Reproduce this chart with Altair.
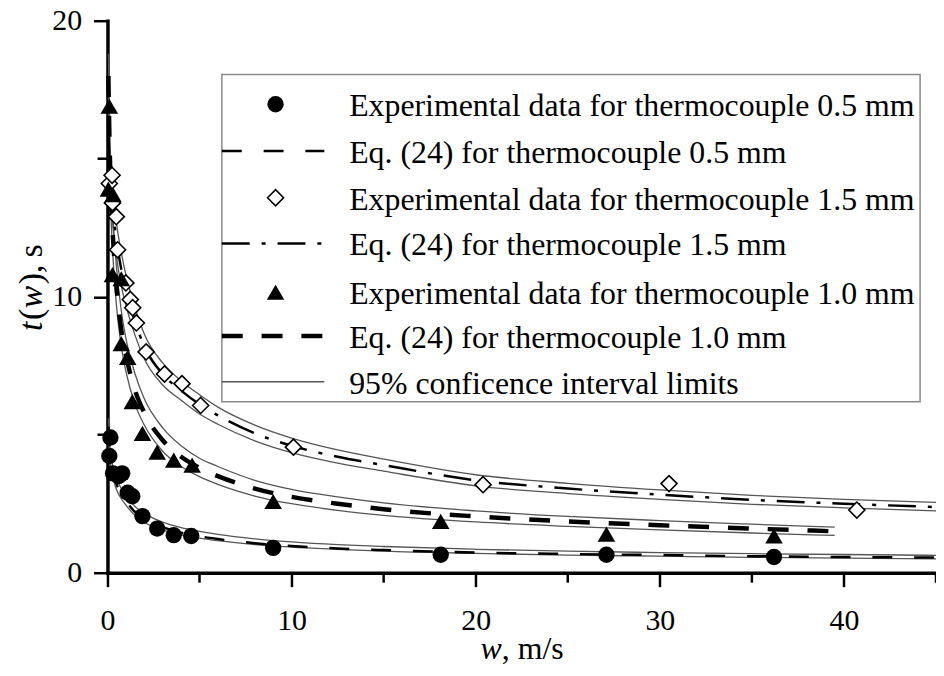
import altair as alt
import pandas as pd

# ---------------- data ----------------
# experimental points
w_exp_05 = [0.10, 0.16, 0.30, 0.60, 0.80, 1.10, 1.35, 1.90, 2.70, 3.60, 4.55, 9.0, 18.1, 27.1, 36.2]
t_exp_05 = [4.23, 4.90, 3.60, 3.50, 3.60, 2.90, 2.77, 2.05, 1.60, 1.36, 1.33, 0.90, 0.65, 0.65, 0.57]

w_exp_15 = [0.10, 0.25, 0.27, 0.48, 0.55, 1.00, 1.24, 1.37, 1.57, 2.10, 3.10, 4.05, 5.06, 10.1, 20.4, 30.5, 40.7]
t_exp_15 = [14.1, 14.4, 13.4, 12.9, 11.7, 10.5, 9.9, 9.6, 9.05, 8.0, 7.2, 6.85, 6.06, 4.55, 3.19, 3.23, 2.27]

w_exp_10 = [0.10, 0.05, 0.30, 0.27, 0.75, 0.75, 1.10, 1.35, 1.90, 2.70, 3.60, 4.60, 9.0, 18.1, 27.1, 36.2]
t_exp_10 = [16.9, 13.9, 13.7, 10.8, 10.65, 8.3, 7.8, 6.2, 5.05, 4.37, 4.08, 3.90, 2.58, 1.86, 1.40, 1.33]

# Eq. (24) curves and 95% confidence limits (read at these w values)
w_fit = [0.05, 0.1, 0.2, 0.35, 0.5, 0.75, 1, 1.5, 2, 3, 4, 5, 6, 8, 10, 12.5, 15, 20, 25, 30, 35, 40, 45]
t_fit_05 = [5.3, 4.6, 4.0, 3.5, 3.2, 2.85, 2.6, 2.2, 1.95, 1.65, 1.45, 1.32, 1.22, 1.07, 0.97, 0.88, 0.82, 0.73, 0.68, 0.64, 0.60, 0.57, 0.55]
t_hi_05 = [5.6, 4.85, 4.2, 3.7, 3.4, 3.05, 2.8, 2.4, 2.15, 1.83, 1.63, 1.50, 1.39, 1.23, 1.12, 1.02, 0.95, 0.85, 0.78, 0.73, 0.69, 0.66, 0.63]
t_lo_05 = [5.0, 4.35, 3.8, 3.3, 3.0, 2.68, 2.45, 2.07, 1.83, 1.55, 1.37, 1.25, 1.16, 1.02, 0.93, 0.85, 0.78, 0.70, 0.64, 0.60, 0.56, 0.53, 0.50]

t_fit_15 = [16.0, 15.0, 13.9, 12.8, 12.0, 11.0, 10.3, 9.1, 8.2, 7.2, 6.6, 6.1, 5.7, 5.05, 4.6, 4.2, 3.9, 3.35, 3.05, 2.83, 2.64, 2.50, 2.38]
t_hi_15 = [16.6, 15.6, 14.5, 13.4, 12.6, 11.6, 10.8, 9.6, 8.65, 7.6, 6.95, 6.45, 6.0, 5.35, 4.88, 4.45, 4.12, 3.55, 3.24, 3.0, 2.8, 2.66, 2.55]
t_lo_15 = [15.4, 14.4, 13.3, 12.2, 11.4, 10.4, 9.7, 8.6, 7.75, 6.8, 6.25, 5.75, 5.38, 4.78, 4.35, 3.97, 3.68, 3.15, 2.87, 2.66, 2.48, 2.35, 2.24]

w_fit_10 = [0.05, 0.1, 0.2, 0.35, 0.5, 0.75, 1, 1.5, 2, 3, 4, 5, 6, 8, 10, 12.5, 15, 20, 25, 30, 35, 39.5]
t_fit_10 = [18.0, 16.0, 13.6, 11.6, 10.3, 8.8, 7.9, 6.6, 5.8, 4.8, 4.2, 3.8, 3.5, 3.05, 2.75, 2.5, 2.3, 2.04, 1.86, 1.72, 1.60, 1.50]
t_hi_10 = [18.8, 16.8, 14.4, 12.3, 11.0, 9.5, 8.5, 7.2, 6.3, 5.25, 4.6, 4.15, 3.85, 3.35, 3.02, 2.75, 2.53, 2.24, 2.04, 1.89, 1.76, 1.65]
t_lo_10 = [17.2, 15.2, 12.8, 10.9, 9.6, 8.2, 7.3, 6.1, 5.35, 4.4, 3.85, 3.48, 3.2, 2.78, 2.5, 2.26, 2.08, 1.84, 1.68, 1.55, 1.44, 1.35]

legend_labels = [
    "Experimental data for thermocouple 0.5 mm",
    "Eq. (24) for thermocouple 0.5 mm",
    "Experimental data for thermocouple 1.5 mm",
    "Eq. (24) for thermocouple 1.5 mm",
    "Experimental data for thermocouple 1.0 mm",
    "Eq. (24) for thermocouple 1.0  mm",
    "95% conficence interval limits",
]

x_major = [0, 10, 20, 30, 40]
x_minor = [5, 15, 25, 35, 45]
y_major = [0, 10, 20]
y_minor = [5, 15]

# ---------------- styling ----------------
FONT = "Liberation Serif"
FS_TICK = 30
FS_LEG = 32
FS_TITLE = 32
FS_YTITLE = 34
W, H = 833, 555

xs = alt.Scale(domain=[0, 45], nice=False, zero=False)
ys = alt.Scale(domain=[0, 20], nice=False, zero=False)
xaxis = alt.Axis(values=x_major, tickSize=14, tickWidth=2.5, tickColor="black",
                 domainColor="black", domainWidth=3.5, domainCap="square",
                 labelFont=FONT, labelFontSize=FS_TICK, labelColor="black",
                 labelPadding=19, grid=False, title=None, labelFlush=False)
yaxis = alt.Axis(values=y_major, tickSize=14, tickWidth=2.5, tickColor="black",
                 domainColor="black", domainWidth=3.5, domainCap="square",
                 labelFont=FONT, labelFontSize=FS_TICK, labelColor="black",
                 labelPadding=12, grid=False, title=None, labelFlush=False)


def X(f):
    return alt.X(f, scale=xs, axis=xaxis)


def Y(f):
    return alt.Y(f, scale=ys, axis=yaxis)


# confidence limits
ci_rows = []
for name, ws, ts in [("05hi", w_fit, t_hi_05), ("05lo", w_fit, t_lo_05),
                     ("15hi", w_fit, t_hi_15), ("15lo", w_fit, t_lo_15),
                     ("10hi", w_fit_10, t_hi_10), ("10lo", w_fit_10, t_lo_10)]:
    for a, b in zip(ws, ts):
        ci_rows.append({"w": a, "t": b, "g": name})
ci = alt.Chart(pd.DataFrame(ci_rows)).mark_line(
    color="#555555", strokeWidth=1.3, interpolate="monotone"
).encode(x=X("w:Q"), y=Y("t:Q"), detail="g:N")

DASH05 = [20, 22]
DASH15 = [28, 12, 4, 12]
DASH10 = [21, 19]
fit05 = alt.Chart(pd.DataFrame({"w": w_fit, "t": t_fit_05})).mark_line(
    color="black", strokeWidth=2.5, strokeDash=DASH05, interpolate="monotone"
).encode(x=X("w:Q"), y=Y("t:Q"))
fit15 = alt.Chart(pd.DataFrame({"w": w_fit, "t": t_fit_15})).mark_line(
    color="black", strokeWidth=2.5, strokeDash=DASH15, interpolate="monotone"
).encode(x=X("w:Q"), y=Y("t:Q"))
fit10 = alt.Chart(pd.DataFrame({"w": w_fit_10, "t": t_fit_10})).mark_line(
    color="black", strokeWidth=4.5, strokeDash=DASH10, interpolate="monotone"
).encode(x=X("w:Q"), y=Y("t:Q"))

CIRC = dict(shape="circle", filled=True, size=270, color="black", opacity=1)
DIAM = dict(shape="diamond", filled=False, size=260, stroke="black", fill="white",
            strokeWidth=1.6, opacity=1, fillOpacity=1)
TRI = dict(shape="triangle-up", filled=True, size=310, color="black", opacity=1)

pts05 = alt.Chart(pd.DataFrame({"w": w_exp_05, "t": t_exp_05})).mark_point(**CIRC).encode(
    x=X("w:Q"), y=Y("t:Q"))
pts15 = alt.Chart(pd.DataFrame({"w": w_exp_15, "t": t_exp_15})).mark_point(**DIAM).encode(
    x=X("w:Q"), y=Y("t:Q"))
pts10 = alt.Chart(pd.DataFrame({"w": w_exp_10, "t": t_exp_10})).mark_point(**TRI).encode(
    x=X("w:Q"), y=Y("t:Q"))

# minor ticks
xminor = alt.Chart(pd.DataFrame({"v": x_minor})).mark_rule(color="black", strokeWidth=2.5).encode(
    x=X("v:Q"), y=alt.value(H), y2=alt.value(H + 10))
yminor = alt.Chart(pd.DataFrame({"v": y_minor})).mark_rule(color="black", strokeWidth=2.5).encode(
    y=Y("v:Q"), x=alt.value(-10), x2=alt.value(0))

# legend (drawn by hand)
one = pd.DataFrame({"k": [0]})
LX0, LX1, LY0, LY1 = 115, 817, 54, 383
rows_y = [84, 131, 178, 224, 273, 317, 363]
SYM_X, LINE_X0, LINE_X1, TEXT_X = 169, LX0, 218, 243

legend_layers = [
    alt.Chart(one).mark_rect(fill="white", stroke="#8a8a8a", strokeWidth=1.5).encode(
        x=alt.value(LX0), x2=alt.value(LX1), y=alt.value(LY0), y2=alt.value(LY1))
]
sym_specs = [CIRC, None, DIAM, None, TRI, None, None]
line_specs = [None,
              dict(color="black", strokeWidth=2.5, strokeDash=DASH05),
              None,
              dict(color="black", strokeWidth=2.5, strokeDash=DASH15),
              None,
              dict(color="black", strokeWidth=4.5, strokeDash=DASH10),
              dict(color="#555555", strokeWidth=1.3)]
for i, lab in enumerate(legend_labels):
    yy = rows_y[i]
    if sym_specs[i] is not None:
        legend_layers.append(alt.Chart(one).mark_point(**sym_specs[i]).encode(
            x=alt.value(SYM_X), y=alt.value(yy)))
    if line_specs[i] is not None:
        legend_layers.append(alt.Chart(one).mark_rule(**line_specs[i]).encode(
            x=alt.value(LINE_X0), x2=alt.value(LINE_X1), y=alt.value(yy)))
    legend_layers.append(alt.Chart(pd.DataFrame({"label": [lab]})).mark_text(
        align="left", baseline="middle", font=FONT, fontSize=FS_LEG, color="black").encode(
        x=alt.value(TEXT_X), y=alt.value(yy + 2), text="label:N"))


# axis titles (mixed italic / roman)
def txt(s, x, y, italic=False, angle=0, fs=FS_TITLE):
    return alt.Chart(pd.DataFrame({"s": [s]})).mark_text(
        align="left", baseline="alphabetic", font=FONT, fontSize=fs, color="black",
        fontStyle="italic" if italic else "normal", angle=angle).encode(
        x=alt.value(x), y=alt.value(y), text="s:N")


xt_x, xt_y = 375, 642
title_layers = [
    txt("w", xt_x, xt_y, italic=True),
    txt(", m/s", xt_x + 21.5, xt_y),
]
yt_x, yt_y = -66, 312
title_layers += [
    txt("t", yt_x, yt_y, italic=True, angle=270, fs=FS_YTITLE),
    txt("(", yt_x, yt_y - 11, angle=270, fs=FS_YTITLE),
    txt("w", yt_x, yt_y - 23, italic=True, angle=270, fs=FS_YTITLE),
    txt("),", yt_x, yt_y - 47, angle=270, fs=FS_YTITLE),
    txt("s", yt_x, yt_y - 74, angle=270, fs=FS_YTITLE),
]

chart = alt.layer(
    ci, fit05, fit15, fit10, pts05, pts15, pts10, xminor, yminor,
    *legend_layers, *title_layers
).properties(
    width=W, height=H,
    padding={"left": 100, "top": 11, "right": 0, "bottom": 94},
    autosize=alt.AutoSizeParams(type="none"),
    background="white",
).configure_view(stroke=None)

chart.save("out.html", embed_options={"renderer": "svg", "actions": False})
